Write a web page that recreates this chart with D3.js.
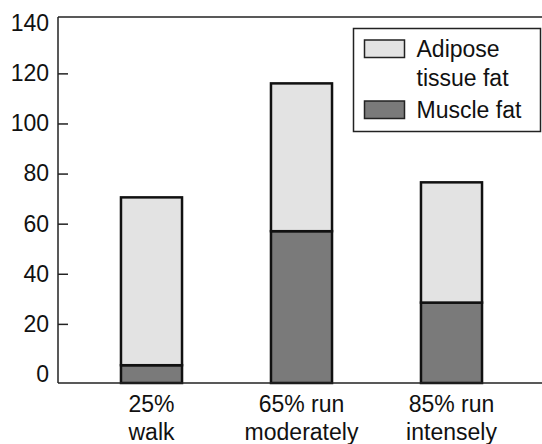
<!DOCTYPE html>
<html>
<head>
<meta charset="utf-8">
<script src="https://cdn.jsdelivr.net/npm/d3@7"></script>
<style>
  body { margin: 0; background: #fff; }
  text { font-family: "Liberation Sans", Arial, sans-serif; fill: #111; }
</style>
</head>
<body>
<svg id="chart" width="542" height="444"></svg>
<script>
// data
const categories = ['25% walk', '65% run moderately', '85% run intensely']
const labelLines = [['25%', 'walk'], ['65% run', 'moderately'], ['85% run', 'intensely']]
const muscleFat = [3.5, 57, 28.5]
const adiposeFat = [67, 59, 48]
const yTicks = [0, 20, 40, 60, 80, 100, 120, 140]
const seriesNames = ['Adipose tissue fat', 'Muscle fat']

const rows = categories.map((c, i) => ({ cat: c, muscle: muscleFat[i], adipose: adiposeFat[i] }))
const stack = d3.stack().keys(['muscle', 'adipose'])(rows)

const svg = d3.select('#chart')
const W = 542, plotLeft = 58, plotTop = 17, plotBottom = 383

const y = d3.scaleLinear().domain([-3.6, 142.5]).range([plotBottom, plotTop])
const x = d3.scaleBand().domain(categories).range([76.5, 526.5])
    .paddingInner(0.593).paddingOuter(0.2965)

const colors = { muscle: '#7a7a7a', adipose: '#e3e3e3' }

// bars
stack.forEach(layer => {
  svg.append('g').selectAll('rect')
    .data(layer)
    .enter()
    .append('rect')
    .attr('x', d => x(d.data.cat))
    .attr('width', x.bandwidth())
    .attr('y', d => y(d[1]))
    .attr('height', d => (d[0] === 0 ? y.range()[0] : y(d[0])) - y(d[1]))
    .attr('fill', colors[layer.key])
    .attr('stroke', '#111')
    .attr('stroke-width', 2.5)
})

// frame lines: top, bottom
svg.append('line').attr('x1', plotLeft).attr('x2', W).attr('y1', plotTop).attr('y2', plotTop)
  .attr('stroke', '#222').attr('stroke-width', 1.5)
svg.append('line').attr('x1', plotLeft).attr('x2', W).attr('y1', plotBottom).attr('y2', plotBottom)
  .attr('stroke', '#222').attr('stroke-width', 1.5)

// y axis, ticks point inward
const yAxis = svg.append('g')
  .attr('transform', `translate(${plotLeft}, 0)`)
  .call(d3.axisLeft(y).tickValues(yTicks).tickSizeInner(-10).tickSizeOuter(0).tickPadding(9))
yAxis.attr('font-family', null).attr('font-size', null)
yAxis.select('.domain').attr('d', `M0,${plotTop}V${plotBottom}`).attr('stroke', '#222').attr('stroke-width', 1.5)
yAxis.selectAll('.tick line').attr('stroke', '#222').attr('stroke-width', 1.5)
  .attr('display', d => (d === 0 || d === 140) ? 'none' : null)
yAxis.selectAll('.tick text').style('font-size', '23px').attr('fill', '#111')

// x labels, two lines each
const xl = svg.append('g').selectAll('text')
  .data(categories)
  .enter()
  .append('text')
  .attr('text-anchor', 'middle')
  .style('font-size', '23px')
xl.each(function (d, i) {
  const t = d3.select(this)
  labelLines[i].forEach((s, j) => {
    t.append('tspan')
      .attr('x', x(d) + x.bandwidth() / 2)
      .attr('y', 412 + j * 28)
      .text(s)
  })
})

// legend
const lg = svg.append('g')
lg.append('rect').attr('x', 353.5).attr('y', 28.5).attr('width', 187).attr('height', 103)
  .attr('fill', '#fff').attr('stroke', '#222').attr('stroke-width', 1.5)
const legendItems = [
  { key: 'adipose', lines: ['Adipose', 'tissue fat'], y: 40 },
  { key: 'muscle', lines: ['Muscle fat'], y: 101 }
]
legendItems.forEach(it => {
  lg.append('rect').attr('x', 364.5).attr('y', it.y).attr('width', 40).attr('height', 17.5)
    .attr('fill', colors[it.key]).attr('stroke', '#222').attr('stroke-width', 1.5)
  it.lines.forEach((s, j) => {
    lg.append('text').attr('x', 416.5).attr('y', it.y + 16.5 + j * 29.5)
      .style('font-size', '23px').text(s)
  })
})
</script>
</body>
</html>
